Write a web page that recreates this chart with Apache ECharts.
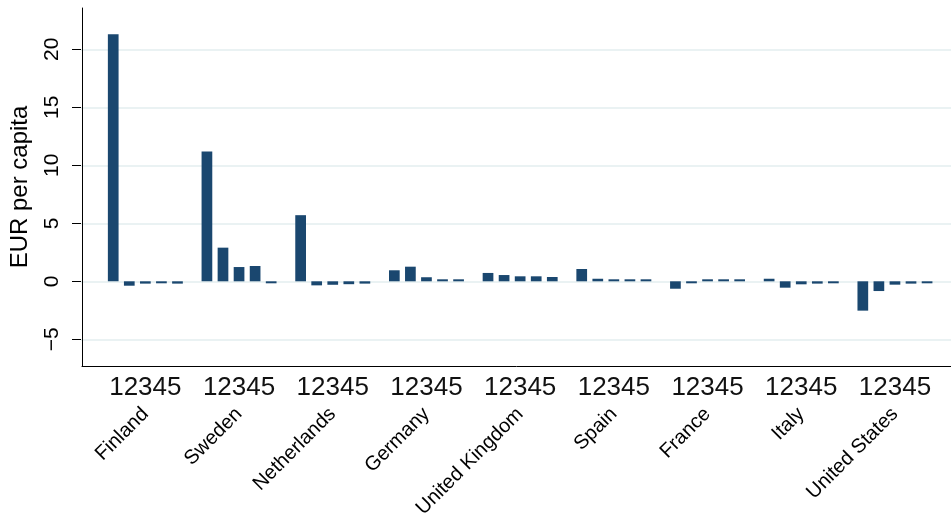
<!DOCTYPE html>
<html>
<head>
<meta charset="utf-8">
<script src="https://cdn.jsdelivr.net/npm/echarts@6/dist/echarts.min.js"></script>
<style>
  html, body { margin: 0; padding: 0; background: #ffffff; }
  #chart { width: 951px; height: 522px; }
</style>
</head>
<body>
<div id="chart"></div>
<script>
// Countries along the x axis
const countries = ['Finland', 'Sweden', 'Netherlands', 'Germany', 'United Kingdom',
                   'Spain', 'France', 'Italy', 'United States'];
// Sub-bar labels shown under each country group
const positions = ['1', '2', '3', '4', '5'];
// EUR per capita, bars 1..5 for each country
const finland     = [21.3, -0.38, -0.2, -0.17, -0.2];
const sweden      = [11.2, 2.9, 1.23, 1.32, -0.1];
const netherlands = [5.7, -0.35, -0.3, -0.25, -0.2];
const germany     = [0.95, 1.26, 0.35, 0.15, 0.1];
const uk          = [0.72, 0.54, 0.43, 0.43, 0.37];
const spain       = [1.06, 0.22, 0.11, 0.11, 0.17];
const france      = [-0.64, -0.08, 0.05, 0.05, 0.05];
const italy       = [0.22, -0.55, -0.26, -0.2, -0.17];
const us          = [-2.53, -0.84, -0.29, -0.2, -0.15];
// Value-axis ticks
const yMin = -5, yMax = 20, yStep = 5;

const byCountry = [finland, sweden, netherlands, germany, uk, spain, france, italy, us];
const FONT = "'Liberation Sans', Arial, sans-serif";
const BAR = '#1a476f';

const series = positions.map((p, i) => ({
  name: p,
  type: 'bar',
  xAxisIndex: 0,
  yAxisIndex: 2,
  data: byCountry.map(c => c[i]),
  itemStyle: { color: BAR },
  barGap: '50%',
  barCategoryGap: '20%',
  barMinHeight: 2,
  clip: false,
  silent: true
}));

const chart = echarts.init(document.getElementById('chart'), null, { renderer: 'canvas' });
chart.setOption({
  animation: false,
  backgroundColor: '#ffffff',
  grid: [
    // bars
    { left: 98.5, right: 9.2, top: 49.3, height: 290 },
    // outer frame (left and bottom lines)
    { left: 81, right: 0, top: 8, bottom: 156 },
    // value axis labels, ticks and grid lines
    { left: 81, right: 0, top: 49.3, height: 290 }
  ],
  xAxis: [
    {
      gridIndex: 0, type: 'category', data: countries, position: 'bottom', offset: 26.7,
      axisLine: { show: false }, axisTick: { show: false },
      axisLabel: {
        interval: 0, margin: 9, color: '#111', fontFamily: FONT, fontSize: 26,
        formatter: () => positions.join('')
      }
    },
    {
      gridIndex: 0, type: 'category', data: countries, position: 'bottom', offset: 26.7,
      axisLine: { show: false }, axisTick: { show: false },
      axisLabel: {
        interval: 0, rotate: 45, margin: 45, color: '#000', fontFamily: FONT, fontSize: 20
      }
    },
    {
      gridIndex: 1, type: 'value', min: 0, max: 1,
      axisLine: { show: true, onZero: false, lineStyle: { color: '#000', width: 1 } },
      axisTick: { show: false }, axisLabel: { show: false }, splitLine: { show: false }
    },
    {
      gridIndex: 2, type: 'value', min: 0, max: 1, show: false
    }
  ],
  yAxis: [
    {
      gridIndex: 1, type: 'value', min: 0, max: 1,
      axisLine: { show: true, onZero: false, lineStyle: { color: '#000', width: 1 } },
      axisTick: { show: false }, axisLabel: { show: false }, splitLine: { show: false },
      name: 'EUR per capita', nameLocation: 'middle', nameRotate: 90, nameGap: 50,
      nameTextStyle: { color: '#000', fontFamily: FONT, fontSize: 24 }
    },
    {
      gridIndex: 2, type: 'value', min: yMin, max: yMax, interval: yStep,
      axisLine: { show: false },
      axisTick: { show: true, inside: false, length: 9, lineStyle: { color: '#000', width: 1 } },
      axisLabel: { rotate: 90, margin: 18, color: '#000', fontFamily: FONT, fontSize: 21,
                   formatter: v => (v < 0 ? '\u2212' + Math.abs(v) : String(v)) },
      splitLine: { show: true, lineStyle: { color: '#eaf2f3', width: 2 } }
    },
    {
      gridIndex: 0, type: 'value', min: yMin, max: yMax, interval: yStep, show: false
    }
  ],
  series: series
});
</script>
</body>
</html>
